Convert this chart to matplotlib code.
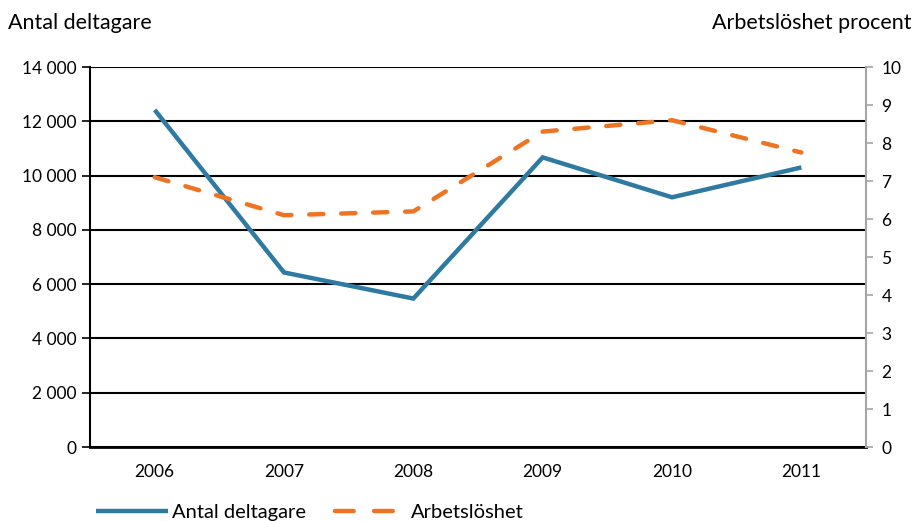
import matplotlib
matplotlib.use("Agg")
import matplotlib.pyplot as plt
from matplotlib.lines import Line2D
from matplotlib.ticker import FuncFormatter

plt.rcParams['font.family'] = ['Lato', 'DejaVu Sans']

years = ['2006', '2007', '2008', '2009', '2010', '2011']
deltagare = [12420, 6430, 5470, 10670, 9200, 10300]
arbetsloshet = [7.1, 6.1, 6.2, 8.3, 8.6, 7.75]

blue = '#2e7aa1'
orange = '#ee7423'
grey = '#a6a6a6'

fig = plt.figure(figsize=(9.14, 5.21), dpi=100)
ax = fig.add_axes([0.0985, 0.142, 0.849, 0.7294])
ax2 = ax.twinx()

x = range(len(years))
l1, = ax.plot(x, deltagare, color=blue, lw=3.2, solid_joinstyle='miter', solid_capstyle='butt',
              label='Antal deltagare', zorder=3)
l2, = ax2.plot(x, arbetsloshet, color=orange, lw=3.2, dashes=(3.2, 4.0),
               dash_capstyle='round', dash_joinstyle='round', label='Arbetslöshet')

ax.set_xlim(-0.5, 5.5)
ax.set_ylim(0, 14000)
ax.set_yticks(range(0, 14001, 2000))
ax.yaxis.set_major_formatter(FuncFormatter(lambda v, p: f'{int(v):,}'.replace(',', ' ')))
ax.set_xticks(list(x))
ax.set_xticklabels(years)
ax.grid(axis='y', color='black', lw=1.5)
ax.set_axisbelow(True)
ax.tick_params(axis='x', length=0, pad=12, labelsize=12.5)
ax.tick_params(axis='y', length=6, width=1.2, color='black', labelsize=12.5, pad=4)

ax2.set_ylim(0, 10)
ax2.set_yticks(range(0, 11))
ax2.tick_params(axis='y', length=5, width=1.2, color=grey, labelsize=12.5, pad=6)

for a in (ax, ax2):
    a.spines['top'].set_visible(False)
ax.spines['right'].set_visible(False)
ax2.spines['left'].set_visible(False)
ax2.spines['bottom'].set_visible(False)
ax.spines['left'].set_linewidth(1.5)
ax.spines['bottom'].set_linewidth(2.0)
ax2.spines['right'].set_color(grey)
ax2.spines['right'].set_linewidth(1.5)

fig.text(0.009, 0.945, 'Antal deltagare', fontsize=15.5, va='baseline')
fig.text(0.997, 0.945, 'Arbetslöshet procent', fontsize=15.5, va='baseline', ha='right')

# legend proxy so the dashed key shows two clean dashes
h2 = Line2D([], [], color=orange, lw=3.2, dashes=(4.2, 4.6), dash_capstyle='round')
fig.legend([l1, h2], ['Antal deltagare', 'Arbetslöshet'], loc='lower left',
           bbox_to_anchor=(0.085, -0.035), ncol=2, frameon=False, fontsize=14.5,
           handlelength=3.6, columnspacing=1.4, handletextpad=0.2)

fig.savefig('out.png', dpi=100)
